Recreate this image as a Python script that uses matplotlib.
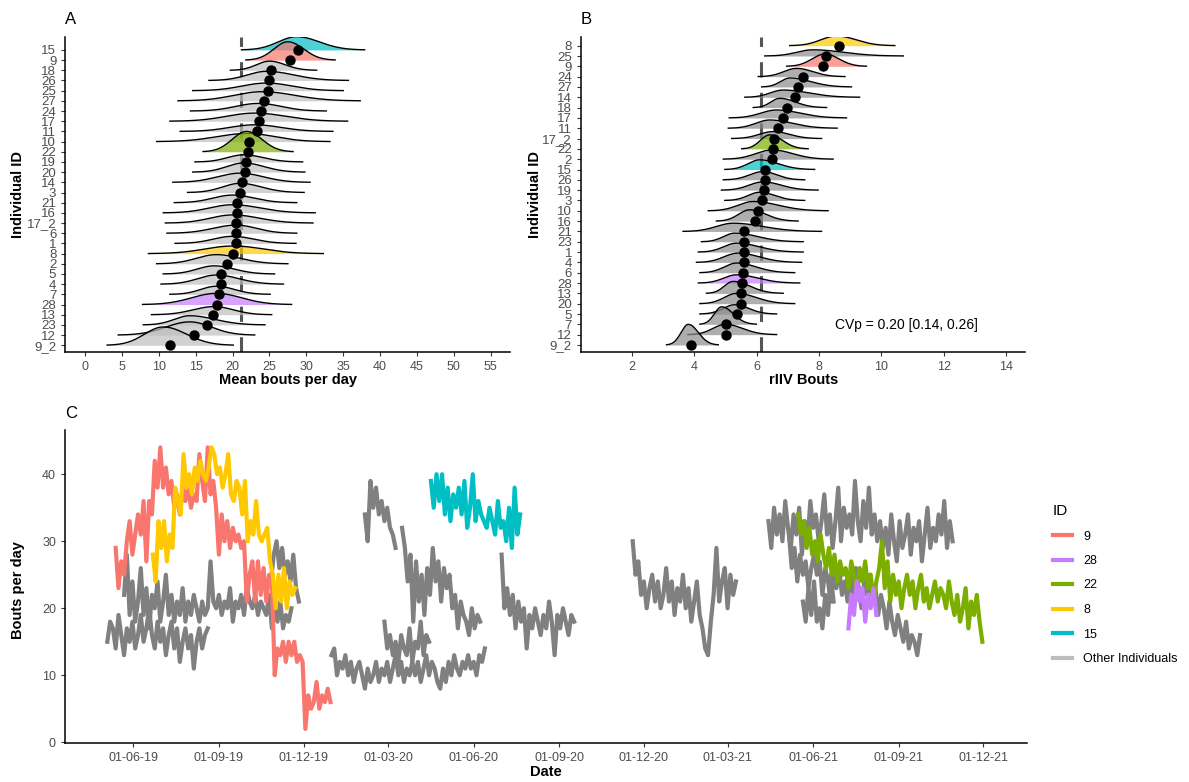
import numpy as np
import pandas as pd
import matplotlib
matplotlib.use('Agg')
import matplotlib.pyplot as plt
import matplotlib.dates as mdates
from matplotlib.lines import Line2D

plt.rcParams['font.family'] = ['Liberation Sans', 'DejaVu Sans']

# ---- panel A: mean bouts per day (rows listed top to bottom)
a_ids = ['15', '9', '18', '26', '25', '27', '24', '17', '11', '10', '22', '19', '20', '14', '3',
         '21', '16', '17_2', '6', '1', '8', '2', '5', '4', '7', '28', '13', '23', '12', '9_2']
a_mean = [28.9, 27.8, 25.2, 24.9, 24.8, 24.2, 23.9, 23.6, 23.3, 22.2, 22.1, 21.8, 21.7, 21.3, 21.0,
          20.6, 20.6, 20.5, 20.5, 20.5, 20.1, 19.3, 18.4, 18.4, 18.1, 17.9, 17.4, 16.5, 14.8, 11.5]
a_mode = [28.7, 27.5, 25.0, 24.6, 24.6, 24.0, 23.5, 23.0, 23.0, 22.0, 21.9, 21.5, 21.5, 21.0, 21.0,
          20.0, 20.0, 20.0, 20.5, 20.0, 20.1, 17.8, 17.5, 17.8, 17.8, 17.8, 17.5, 14.2, 14.2, 10.6]
a_lo = [21.2, 21.8, 19.7, 16.8, 14.6, 12.6, 14.3, 11.5, 12.9, 9.7, 16.0, 14.9, 14.6, 11.9, 13.9,
        12.1, 10.6, 10.9, 11.1, 12.2, 8.6, 9.7, 10.6, 10.3, 11.5, 7.8, 9.0, 7.9, 4.5, 3.0]
a_hi = [37.9, 33.9, 31.4, 35.7, 35.0, 37.3, 32.7, 35.6, 33.6, 33.2, 28.2, 29.5, 29.8, 30.5, 29.7,
        28.7, 31.2, 30.9, 28.7, 28.6, 32.3, 27.5, 25.7, 26.9, 25.1, 28.0, 25.3, 24.4, 23.0, 20.1]
a_height = [1.3, 1.8, 0.9, 0.9, 0.75, 0.9, 0.75, 0.8, 0.65, 0.8, 2.0, 0.7, 0.9, 0.9, 0.9,
            0.75, 0.8, 0.8, 0.8, 0.7, 0.75, 0.9, 0.8, 0.9, 0.8, 1.1, 0.8, 0.9, 1.3, 1.8]
a_ref = 21.1

# ---- panel B: rIIV bouts
b_ids = ['8', '25', '9', '24', '27', '14', '18', '17', '11', '17_2', '22', '2', '15', '26', '19',
         '3', '10', '16', '21', '23', '1', '4', '6', '28', '13', '20', '5', '7', '12', '9_2']
b_mean = [8.63, 8.23, 8.14, 7.47, 7.34, 7.22, 6.98, 6.83, 6.67, 6.56, 6.51, 6.49, 6.26, 6.26, 6.24,
          6.16, 6.03, 5.96, 5.59, 5.59, 5.59, 5.59, 5.56, 5.54, 5.51, 5.49, 5.37, 5.02, 5.02, 3.88]
b_mode = [8.56, 7.8, 8.19, 7.28, 7.07, 6.85, 6.74, 6.64, 6.42, 6.53, 6.42, 6.5, 6.1, 6.2, 6.2,
          6.1, 5.89, 5.78, 5.25, 5.3, 5.36, 5.4, 5.36, 5.36, 5.25, 5.36, 5.3, 4.88, 5.0, 3.81]
b_lo = [7.06, 6.26, 6.96, 6.05, 6.16, 5.62, 5.89, 5.12, 5.09, 5.2, 5.52, 4.93, 4.98, 4.93, 4.87,
        4.98, 4.45, 4.71, 3.64, 4.23, 4.13, 4.07, 4.18, 4.13, 4.39, 4.18, 4.18, 4.18, 3.8, 3.11]
b_hi = [10.43, 10.7, 9.52, 8.83, 9.04, 9.3, 8.24, 8.88, 8.58, 8.08, 7.65, 8.45, 7.86, 7.54, 7.97,
        7.54, 8.29, 7.33, 8.08, 7.49, 7.49, 7.44, 7.22, 7.38, 6.85, 7.22, 6.64, 5.99, 6.64, 4.77]
b_height = [0.94, 0.6, 1.2, 0.8, 0.87, 0.7, 0.9, 0.77, 0.8, 0.68, 1.36, 0.9, 0.94, 0.8, 0.8,
            0.8, 0.9, 1.1, 0.8, 0.84, 0.87, 0.9, 0.94, 0.8, 1.16, 1.0, 0.9, 1.7, 1.0, 2.0]
b_ref = 6.15
cvp_text = 'CVp = 0.20 [0.14, 0.26]'

highlight = {'9': '#F8766D', '28': '#C77CFF', '22': '#7CAE00', '8': '#FFC800', '15': '#00BFC4'}

# ---- panel C: bouts per day, 3-day samples
id9_start = '2019-05-13'
id9_vals = [29, 23, 27, 25, 30, 33, 28,
            31, 34, 31, 36, 27,
            36, 34, 42, 38, 44,
            38, 41, 37, 39, 35, 37, 34, 38, 36, 38,
            35, 37, 36, 43, 39, 36, 44, 37, 39, 35,
            28, 34, 30, 33, 29, 32, 30, 31, 29, 30,
            21, 25, 27, 21, 27, 22, 26, 21, 25, 24,
            10, 14, 13, 15, 12, 15, 13, 15, 12, 13,
            12, 2, 7, 5, 6, 9, 5, 7, 6, 8, 6]
id8_start = '2019-06-22'
id8_vals = [28, 24, 33, 29, 33, 27, 31, 29, 38, 36, 34, 43, 38, 40, 37, 41, 39, 42, 40, 39,
            41, 44, 43, 40, 41, 38, 40, 43, 37, 36, 39, 38, 34, 39, 30, 33, 31, 36, 31, 30,
            31, 32, 27, 25, 20, 25, 21, 26, 20, 24, 22, 23]
id15_start = '2020-04-16'
id15_vals = [39, 35, 40, 36, 40, 34, 38, 33, 37, 35, 38, 34, 39, 32, 35, 40, 33, 36, 34, 33,
             32, 35, 33, 31, 36, 32, 33, 30, 35, 29, 38, 31, 34]
id22_start = '2021-05-16'
id22_vals = [34, 31, 33, 29, 32, 28, 30, 27, 31, 28,
             26, 29, 25, 28, 24, 27, 25, 26, 23, 27,
             25, 22, 26, 24, 27, 23, 25, 21, 24, 26,
             30, 23, 27, 21, 25, 22, 24, 20, 23, 25,
             22, 24, 20, 23, 25, 21, 23, 20, 22, 24,
             21, 23, 22, 20, 24, 21, 19, 22, 18, 20,
             23, 17, 21, 19, 22, 18, 15]
id28_start = '2021-07-09'
id28_vals = [17, 22, 19, 24, 21, 23, 18, 22, 20, 23, 19]

other_starts = ['2019-05-04', '2019-05-22', '2019-10-27', '2019-12-31', '2020-02-05', '2020-03-16',
                '2020-02-26', '2020-07-01', '2020-11-19', '2021-04-14', '2021-05-06', '2021-05-21']
other_vals = [
    [15, 18, 17, 14, 19, 16, 13, 17, 15, 18, 14, 16, 19, 15, 17, 20, 16, 14, 18, 15, 17, 13, 16,
     18, 14, 17, 12, 15, 17, 14, 16, 11, 15, 17, 14, 16, 17],
    [22, 28, 19, 24, 18, 21, 26, 19, 23, 17, 22,
     20, 24, 18, 21, 25, 19, 22, 18, 21, 19,
     23, 18, 21, 19, 22, 20, 18, 21, 19, 20,
     27, 21, 20, 22, 19, 21, 20, 23, 18, 21,
     20, 22, 19, 23, 21, 20, 22, 19, 21, 20,
     19, 22, 17, 20, 18, 21, 17, 19, 18, 20],
    [24, 28, 30, 26, 29, 25, 27, 24, 28, 23, 21],
    [13, 14, 10, 12, 11, 13, 10, 12, 9, 11,
     12, 10, 8, 11, 9, 10, 12, 9, 11, 10,
     12, 9, 11, 13, 10, 12, 9, 11, 10, 12,
     10, 12, 9, 11, 13, 10, 12, 11, 9, 8,
     11, 9, 12, 10, 13, 11, 10, 12, 11, 13,
     11, 12, 10, 13, 12, 14],
    [34, 30, 39, 35, 38, 34, 36, 33, 35, 32, 31, 29],
    [32, 29, 24, 28, 18, 27, 21, 25, 19, 26, 22, 29, 24, 27, 21, 26, 23, 25, 20, 22, 17, 21,
     19, 18, 16, 20, 17, 19, 18],
    [18, 14, 16, 13, 15, 12, 16, 14, 13, 17, 12, 15, 14, 18, 13, 16, 15],
    [28, 20, 23, 19, 22, 17, 21, 18, 20, 14, 19, 17, 20, 18, 16, 19, 17, 21, 18, 13, 19, 17,
     20, 18, 16, 19, 18],
    [30, 25, 27, 22, 24, 20, 23, 25, 21, 24, 20, 22, 26, 21, 24, 19, 23, 21, 25, 20, 23, 18,
     21, 24, 19, 17, 14, 13, 18, 22, 29, 21, 24, 26, 20, 25, 22, 24],
    [33, 29, 35, 31, 34, 30, 36, 32, 29, 34,
     31, 35, 28, 33, 30, 36, 32, 34, 30, 33,
     37, 31, 34, 29, 33, 38, 30, 35, 32, 34,
     31, 39, 33, 30, 36, 32, 38, 31, 34, 30,
     33, 29, 32, 28, 34, 30, 27, 33, 29, 31,
     34, 28, 32, 30, 33, 27, 31, 35, 29, 32,
     30, 34, 31, 36, 29, 33, 30],
    [31, 26, 29, 24, 28, 25, 27, 23, 26, 28,
     25, 27, 22, 26, 24, 21, 25, 23, 26, 22,
     24, 21, 25, 22, 26, 23, 20, 24, 22, 25,
     21, 23, 19, 22, 20, 17, 21, 18, 16, 19,
     17, 15, 18, 14, 16, 15, 13, 16],
    [21, 18, 23, 19, 24, 18, 20, 17, 22, 19, 25, 21],
]

legend_ids = ['9', '28', '22', '8', '15']
tick_dates = pd.date_range('2019-06-01', '2021-12-01', freq='3MS')

TXT = '#4D4D4D'
W, H = 1189, 782


def style_axes(ax):
    for s in ['top', 'right']:
        ax.spines[s].set_visible(False)
    for s in ['left', 'bottom']:
        ax.spines[s].set_linewidth(1.1)
        ax.spines[s].set_color('black')
    ax.tick_params(labelsize=9, labelcolor=TXT, color='#333333', length=3, width=0.8)


def ridges(ax, ids, means, modes, los, his, heights, gray, ref):
    n = len(ids)
    rows = np.arange(n, 0, -1)
    ax.axvline(ref, color='#555555', lw=2.2, ls=(0, (5, 5)), zorder=1.5)
    for i in range(n):
        x = np.linspace(los[i], his[i], 300)
        sd = np.where(x < modes[i], (modes[i] - los[i]) / 3, (his[i] - modes[i]) / 3)
        y = rows[i] + heights[i] * np.exp(-0.5 * ((x - modes[i]) / sd) ** 2)
        col = highlight.get(ids[i], gray)
        ax.fill_between(x, rows[i], y, color=col, alpha=0.7, lw=0, zorder=2 + i * 0.01)
        ax.plot(x, y, color='black', lw=1.0, zorder=2.005 + i * 0.01)
    ax.scatter(means, rows, s=42, color='black', zorder=10)
    ax.set_yticks(rows)
    ax.set_yticklabels(ids)
    style_axes(ax)
    ax.tick_params(axis='y', labelsize=9.5)


fig = plt.figure(figsize=(W / 100, H / 100), dpi=100)

def px_axes(l, t, r, b):
    return fig.add_axes([l / W, 1 - b / H, (r - l) / W, (b - t) / H])

ax_a = px_axes(65.3, 36.7, 510, 351.7)
ridges(ax_a, a_ids, a_mean, a_mode, a_lo, a_hi, a_height, '#BEBEBE', a_ref)
ax_a.set_xlim(-2.67, 57.6)
ax_a.set_ylim(0.37, 31.3)
ax_a.set_xticks(np.arange(0, 56, 5))

ax_b = px_axes(581, 36.7, 1025, 351.7)
ridges(ax_b, b_ids, b_mean, b_mode, b_lo, b_hi, b_height, '#8C8C8C', b_ref)
ax_b.set_xlim(0.37, 14.6)
ax_b.set_ylim(0.35, 30.87)
ax_b.set_xticks(np.arange(2, 15, 2))
ax_b.text(8.5, 2.97, cvp_text, fontsize=10, va='center', ha='left', color='black')

ax_c = px_axes(65, 430, 1027, 743.3)
for st, vals in zip(other_starts, other_vals):
    d = pd.date_range(st, periods=len(vals), freq='3D')
    ax_c.plot(d, vals, color='#808080', lw=3.0, solid_joinstyle='round', zorder=2)
for st, vals, key in [(id9_start, id9_vals, '9'), (id8_start, id8_vals, '8'),
                      (id15_start, id15_vals, '15'), (id22_start, id22_vals, '22'),
                      (id28_start, id28_vals, '28')]:
    d = pd.date_range(st, periods=len(vals), freq='3D')
    ax_c.plot(d, vals, color=highlight[key], lw=3.0, solid_joinstyle='round', zorder=3)
x0 = pd.Timestamp('2019-06-01')
ax_c.set_xlim(x0 - pd.Timedelta(days=73.5), x0 + pd.Timedelta(days=961))
ax_c.set_ylim(-0.15, 46.6)
ax_c.set_xticks(tick_dates)
ax_c.xaxis.set_major_formatter(mdates.DateFormatter('%d-%m-%y'))
ax_c.set_yticks([0, 10, 20, 30, 40])
style_axes(ax_c)

handles = [Line2D([], [], color=highlight[k], lw=3) for k in legend_ids]
handles.append(Line2D([], [], color='#BEBEBE', lw=3))
leg = fig.legend(handles, legend_ids + ['Other Individuals'], title='ID',
                 loc='upper left', bbox_to_anchor=(1053 / W, 1 - 504 / H),
                 frameon=False, fontsize=9, title_fontsize=11, handlelength=1.5,
                 handletextpad=0.9, labelspacing=1.0, borderpad=0, borderaxespad=0)
leg._legend_box.align = 'left'

# panel letters and axis titles
fig.text(65 / W, 1 - 24 / H, 'A', fontsize=12, va='baseline')
fig.text(581 / W, 1 - 24 / H, 'B', fontsize=12, va='baseline')
fig.text(65 / W, 1 - 418 / H, 'C', fontsize=12, va='baseline')
fig.text(18 / W, 1 - 194 / H, 'Individual ID', fontsize=10.5, fontweight='bold',
         rotation=90, ha='center', va='center')
fig.text(535 / W, 1 - 194 / H, 'Individual ID', fontsize=10.5, fontweight='bold',
         rotation=90, ha='center', va='center')
fig.text(18 / W, 1 - 590 / H, 'Bouts per day', fontsize=10.5, fontweight='bold',
         rotation=90, ha='center', va='center')
fig.text(288 / W, 1 - 380 / H, 'Mean bouts per day', fontsize=10.5, fontweight='bold',
         ha='center', va='center')
fig.text(804 / W, 1 - 380 / H, 'rIIV Bouts', fontsize=10.5, fontweight='bold',
         ha='center', va='center')
fig.text(546 / W, 1 - 772 / H, 'Date', fontsize=10.5, fontweight='bold',
         ha='center', va='center')

fig.savefig('out.png', dpi=100)
